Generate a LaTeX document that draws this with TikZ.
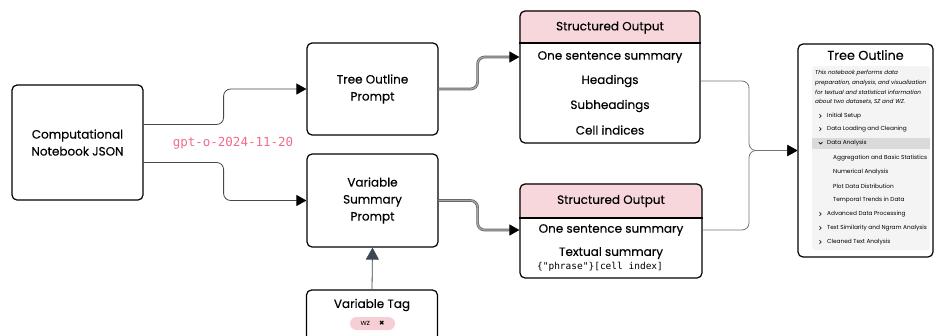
\documentclass[tikz,border=0pt]{standalone}
\usepackage{fontspec}
\setmainfont{Poppins}[FakeBold = 0.3]
\newfontfamily\lightfont{Poppins}
\newfontfamily\codefont{DejaVu Sans Mono}
\newfontfamily\symbfont{DejaVu Sans}
\usetikzlibrary{positioning,arrows.meta,backgrounds}
\definecolor{hdrpink}{HTML}{F8D7DC}
\definecolor{tagpink}{HTML}{F6CFD6}
\definecolor{modelpink}{HTML}{EF6B8B}
\definecolor{slate}{HTML}{3F4753}
\definecolor{panelgray}{HTML}{F4F4F4}
\definecolor{rowgray}{HTML}{DADADA}
\tikzset{
  box/.style = {draw = black, line width = 1.2pt, rounded corners = 5pt, minimum width = 131pt},
  lbl/.style = {align = center, font = \fontsize{12}{17}\selectfont},
  row/.style = {inner sep = 0pt, font = \fontsize{12}{13}\selectfont},
  feed/.style = {draw = black!72, line width = .8pt, rounded corners = 7pt, -{Triangle[length = 10pt, width = 11pt, black]}},
  pipe/.style = {draw = black!62, double = black!35, double distance = 1.3pt, line width = .7pt, rounded corners = 7pt, -{Triangle[length = 10pt, width = 11pt, black]}},
  merge/.style = {draw = black!55, line width = .8pt, rounded corners = 7pt, -{Triangle[length = 10pt, width = 11pt, black]}},
  item/.style = {anchor = west, inner sep = 0pt, font = \lightfont\fontsize{5.8}{6}\selectfont},
}

\begin{document}
\begin{tikzpicture}[x = 1pt, y = -1pt]
\clip (0,0) rectangle (936,335);

% input and prompts
\node[box, minimum height = 115pt, lbl] (cnj) at (77.5,142.5) {Computational\\Notebook JSON};
\node[box, minimum height = 92pt, lbl] (tprompt) at (372.5,89) {Tree Outline\\Prompt};
\node[box, minimum height = 93pt, lbl] (vsp) at (372.5,200.5) {Variable\\Summary\\Prompt};
\node[box, minimum height = 56pt] (vtag) at (372,318) {};
\node[row] (vtagl) at (372,305) {Variable Tag};
\node[fill = tagpink, rounded corners = 6.5pt, minimum width = 45pt, minimum height = 13pt, inner sep = 0pt, font = \lightfont\fontsize{7.5}{8}\selectfont] (wz) at (372.5,323.5) {wz\hspace{9pt}{\symbfont\bfseries\fontsize{6.5}{8}\selectfont ✖}};
\node[text = modelpink, font = \codefont\fontsize{12.5}{14}\selectfont] (model) at (233,143) {gpt-o-2024-11-20};

% structured outputs
\node[box, minimum width = 180pt, minimum height = 132pt] (so1) at (610,77) {};
\coordinate (so1cut) at (610,43);
\node[row] (so1h) at (610,27.5) {Structured Output};
\node[row] (so1a) at (610,57) {One sentence summary};
\node[row] (so1b) at (610,81) {Headings};
\node[row] (so1c) at (610,106) {Subheadings};
\node[row] (so1d) at (610,130) {Cell indices};
\draw[line width = 1.2pt] (so1.west |- so1cut) -- (so1.east |- so1cut);

\node[box, minimum width = 182pt, minimum height = 94pt] (so2) at (611,231) {};
\coordinate (so2cut) at (611,218);
\node[row] (so2h) at (611,201) {Structured Output};
\node[row] (so2a) at (611,230) {One sentence summary};
\node[row] (so2b) at (611,253) {Textual summary};
\node[inner sep = 0pt, font = \codefont\fontsize{9.5}{11}\selectfont] (so2c) at (600,267) {\{"phrase"\}[cell index]};
\draw[line width = 1.2pt] (so2.west |- so2cut) -- (so2.east |- so2cut);

\begin{scope}[on background layer]
  \begin{scope}
    \clip (so1.north west) rectangle (so1.east |- so1cut);
    \fill[hdrpink, rounded corners = 5pt] (so1.north west) rectangle (so1.south east);
  \end{scope}
  \begin{scope}
    \clip (so2.north west) rectangle (so2.east |- so2cut);
    \fill[hdrpink, rounded corners = 5pt] (so2.north west) rectangle (so2.south east);
  \end{scope}
\end{scope}

% tree outline
\node[box, minimum width = 135pt, minimum height = 213pt] (tree) at (865.5,150.5) {};
\node[inner sep = 0pt, font = \fontsize{12.8}{14}\selectfont] (ttitle) at (865.5,55) {Tree Outline};
\node[fill = panelgray, rounded corners = 3pt, minimum width = 118pt, minimum height = 184pt, inner sep = 0pt] (tpanel) at (871,158) {};
\fill[rowgray] (tpanel.west |- 0,137.5) rectangle (tpanel.east |- 0,149);
\node[item, align = left, font = \lightfont\itshape\fontsize{5.7}{9.7}\selectfont] (tsum) at (815,87.5) {This notebook performs data\\preparation, analysis, and visualization\\for textual and statistical information\\about two datasets, SZ and WZ.};
\foreach \y/\t in {116/Initial Setup, 129/Data Loading and Cleaning, 214/Advanced Data Processing, 228/Text Similarity and Ngram Analysis, 242/Cleaned Text Analysis} {
  \node[item] at (827,\y) {\t};
  \draw[line width = .6pt] (819.5,\y-1.8) -- (821.3,\y) -- (819.5,\y+1.8);
}
\node[item] (tda) at (827,143) {Data Analysis};
\draw[line width = .6pt] (818.8,142.2) -- (820.6,144) -- (822.4,142.2);
\foreach \y/\t in {158/Aggregation and Basic Statistics, 172/Numerical Analysis, 186/Plot Data Distribution, 200/Temporal Trends in Data}
  \node[item] at (833,\y) {\t};

% connectors
\draw[feed] ([yshift = 18pt]cnj.east) -- ++(80,0) |- (tprompt.west);
\draw[feed] ([yshift = -20pt]cnj.east) -- ++(80,0) |- (vsp.west);
\draw[pipe] (tprompt.east) -- ++(39,0) |- (so1.west |- so1a);
\draw[pipe] (vsp.east) -- ++(39,0) |- (so2.west |- so2a);
\coordinate (join) at (749,150.5);
\draw[merge] (so1.east |- so1b) -| (join) -- (tree.west);
\draw[merge] (so2.east |- so2a) -| (join) -- (tree.west);
\draw[slate, line width = .8pt, -{Triangle[length = 12pt, width = 13pt]}] (vtag.north) -- (vsp.south);
\end{tikzpicture}
\end{document}
